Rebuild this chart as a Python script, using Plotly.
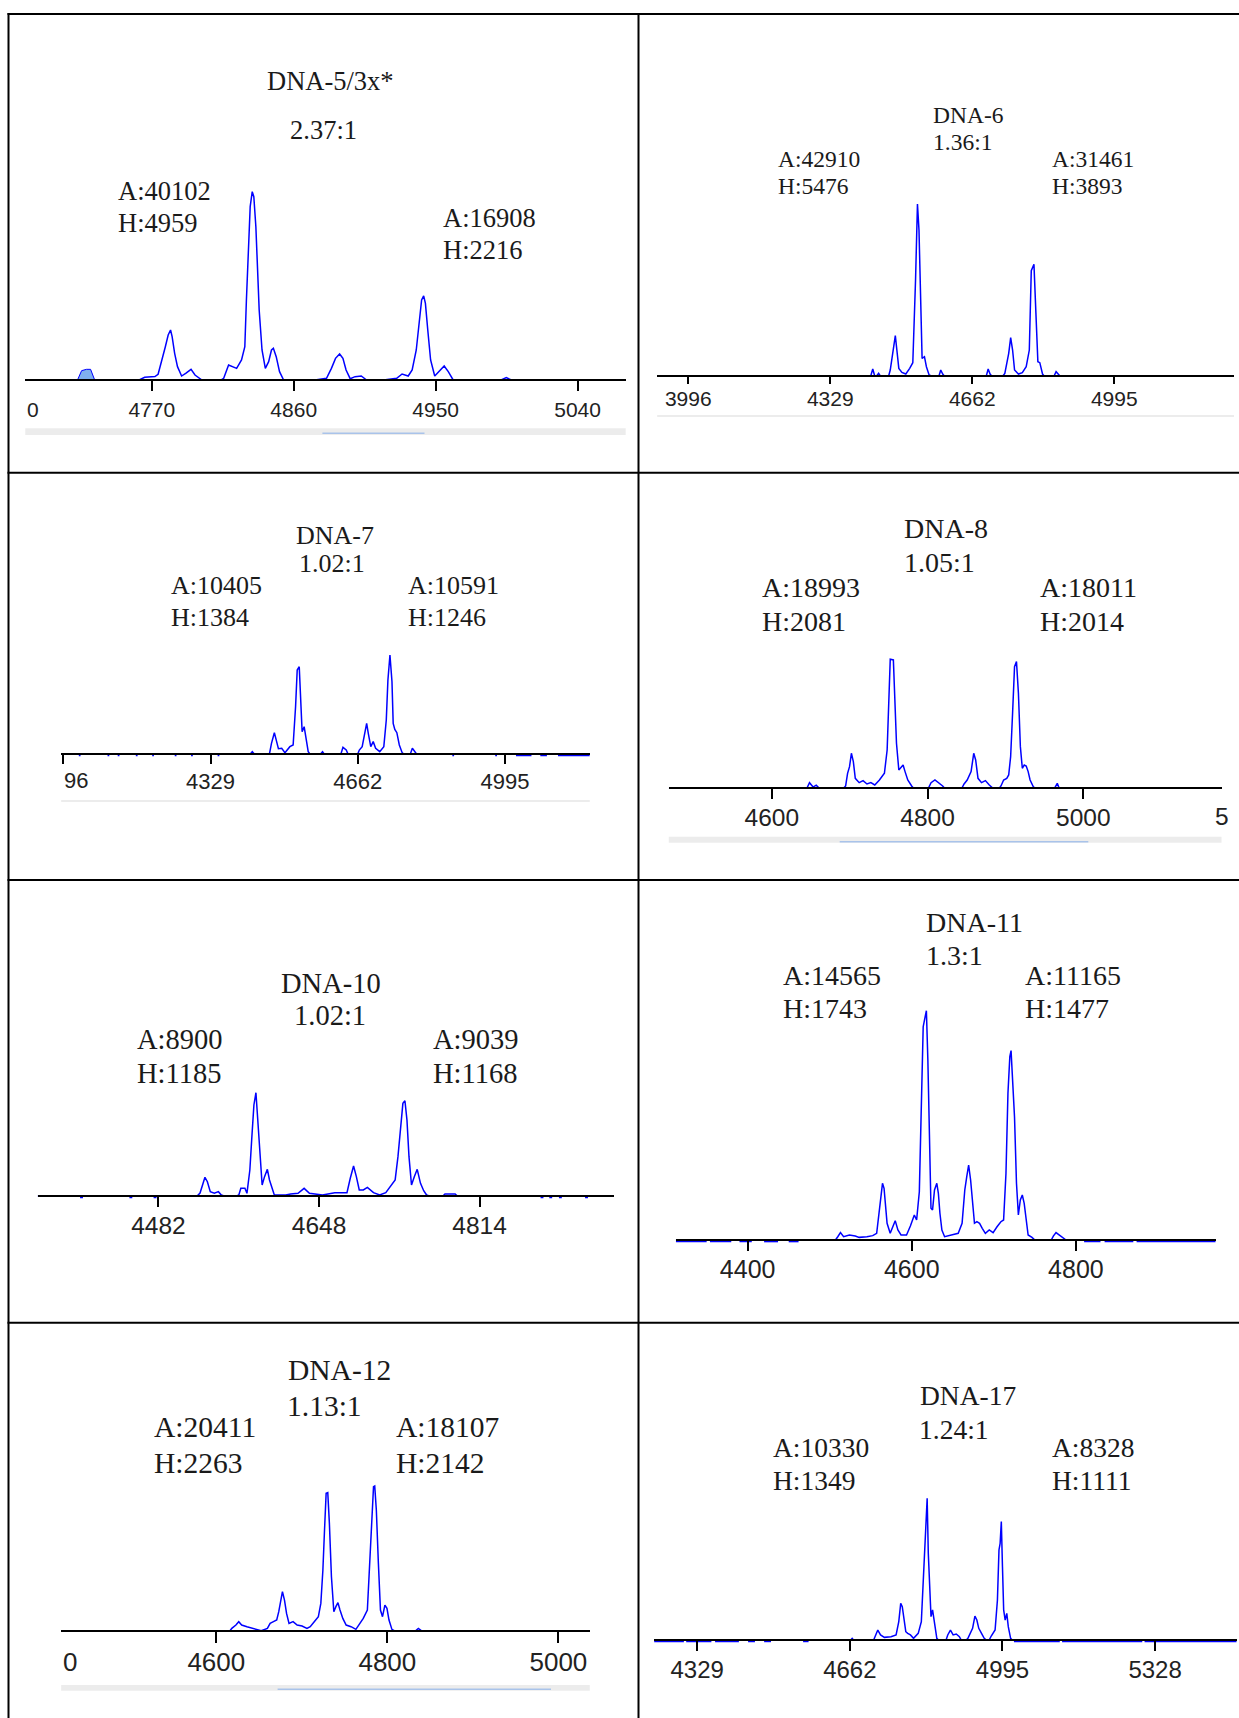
import plotly.graph_objects as go

W, H = 1239, 1718

# ---------------- data (mass, intensity) ----------------
P1_SPECTRUM = [(4689.8, 0), (4762, 0), (4765.5, 70), (4772, 90), (4774, 150), (4776, 439), (4778.6, 877),
               (4780.4, 1185), (4781.9, 1317), (4782.9, 1141), (4784.5, 702), (4786.3, 351), (4788.9, 105),
               (4791.5, 176), (4794.9, 281), (4797.4, 132), (4800.5, 44), (4801.8, 0), (4814, 0), (4815.6, 44),
               (4818.7, 395), (4821.2, 351), (4823.8, 307), (4826.9, 527), (4829.0, 877), (4830.0, 2106),
               (4831.1, 3072), (4832.4, 4564), (4833.7, 4959), (4834.7, 4827), (4836.0, 4037), (4836.8, 2984),
               (4838.1, 1843), (4839.9, 790), (4842.0, 307), (4844.1, 483), (4845.9, 790), (4847.1, 834),
               (4848.9, 614), (4851.0, 219), (4853.6, 0), (4873.5, 0), (4880.8, 44), (4883.9, 307), (4886.5, 570),
               (4889.1, 685), (4891.2, 570), (4893.2, 263), (4895.8, 35), (4898.9, 88), (4902.8, 105), (4906.2, 0),
               (4917.0, 0), (4925.3, 44), (4928.7, 158), (4932.6, 105), (4935.1, 263), (4937.7, 790),
               (4939.6, 1580), (4941.1, 2106), (4942.4, 2216), (4943.5, 2018), (4945.0, 1317), (4946.8, 527),
               (4949.4, 105), (4952.0, 219), (4955.4, 369), (4958.0, 219), (4961.1, 0), (4991.5, 0), (4994.8, 61),
               (4998, 0), (5070.5, 0)]
P1_SHADED = [(4722.9, 0), (4725.5, 246), (4728.6, 281), (4731.2, 281), (4733.8, 0)]

P2_SPECTRUM = [(3923.1, 0), (4424, 0), (4428.6, 213), (4433, 0), (4438, 0), (4442.3, 75), (4446, 0), (4466, 0),
               (4469.6, 181), (4476.0, 713), (4481.5, 1276), (4485.1, 819), (4489.7, 234), (4497.0, 106),
               (4506.1, 53), (4515.2, 234), (4522.5, 415), (4528.9, 3052), (4533.4, 5476), (4537.0, 4647),
               (4540.7, 2201), (4544.3, 553), (4549.8, 606), (4554.4, 287), (4560.7, 21), (4565, 0), (4584, 0),
               (4588.0, 181), (4592.6, 53), (4596, 0), (4695, 0), (4699.2, 213), (4703.7, 53), (4707, 0), (4734, 0),
               (4738.3, 75), (4747.4, 713), (4752.0, 1212), (4756.5, 819), (4761.1, 181), (4770.2, 53),
               (4779.3, 96), (4788.4, 287), (4795.7, 819), (4800.3, 3350), (4806.6, 3551), (4811.2, 1988),
               (4815.8, 447), (4820.3, 415), (4826.7, 53), (4830, 0), (4854, 0), (4858.5, 128), (4864.0, 21),
               (4867, 0), (5275.7, 0)]

P3_SPECTRUM = [(3991.2, 0), (4419, 0), (4423.5, 37), (4428, 0), (4462.3, 0), (4466.9, 169), (4473.4, 338),
               (4478.0, 222), (4482.6, 85), (4490.0, 90), (4497.4, 21), (4508.5, 116), (4515.9, 143),
               (4521.4, 750), (4525.1, 1331), (4529.7, 1384), (4533.4, 777), (4536.2, 354), (4540.8, 433),
               (4545.4, 248), (4550.0, 37), (4554, 0), (4578, 0), (4582.4, 37), (4586, 0), (4624, 0),
               (4628.6, 106), (4636.0, 63), (4640, 0), (4662, 0), (4665.6, 63), (4672.1, 116), (4677.6, 338),
               (4682.2, 486), (4685.9, 327), (4691.5, 116), (4697.0, 196), (4702.5, 90), (4711.8, 37),
               (4721.0, 116), (4726.6, 539), (4730.3, 1173), (4734.9, 1569), (4739.5, 1146), (4742.2, 486),
               (4745.9, 391), (4750.5, 338), (4756.1, 143), (4762.5, 21), (4766, 0), (4781, 0), (4785.6, 90),
               (4793.0, 21), (4796, 0), (5187, 0)]
P3_NOISE = [(4031, 4035), (4096, 4100), (4119, 4123), (4160, 4164), (4197, 4201), (4248, 4252), (4285, 4289),
            (4345, 4349), (4876, 4880), (4973, 4977), (5020, 5055), (5075, 5090), (5115, 5187)]

P4_SPECTRUM = [(4467.7, 0), (4645, 0), (4648.4, 91), (4653, 20), (4657, 50), (4661, 0), (4692, 0), (4694.8, 38),
               (4697.3, 242), (4699.8, 349), (4702.2, 565), (4704.7, 430), (4707.2, 161), (4712.2, 91),
               (4717.2, 124), (4722.2, 70), (4727.2, 91), (4732.2, 54), (4738.2, 134), (4744.6, 242),
               (4748.1, 618), (4750.1, 1425), (4752.1, 2081), (4756.1, 2070), (4758.1, 1479), (4760.1, 726),
               (4763.1, 296), (4766.1, 349), (4768.6, 376), (4771.1, 269), (4774.6, 134), (4779.6, 38), (4782, 0),
               (4801, 0), (4804.5, 91), (4809.5, 134), (4814.5, 91), (4819.4, 38), (4822, 0), (4844, 0),
               (4846.9, 70), (4850.9, 134), (4855.9, 269), (4859.3, 565), (4861.8, 457), (4864.8, 161),
               (4869.3, 91), (4874.3, 124), (4879.3, 54), (4884, 0), (4892, 0), (4894.3, 38), (4897.7, 134),
               (4901.7, 161), (4904.2, 215), (4906.7, 511), (4909.2, 1210), (4911.7, 1962), (4914.2, 2044),
               (4916.7, 1532), (4919.2, 672), (4921.7, 323), (4924.2, 376), (4926.7, 360), (4929.2, 269),
               (4931.7, 134), (4935.7, 27), (4938, 0), (4963, 0), (4966.6, 81), (4969.1, 0), (5177.5, 0)]

P5_SPECTRUM = [(4357.1, 0), (4522, 0), (4525.0, 34), (4527.1, 107), (4530.1, 214), (4532.6, 164), (4535.6, 50),
               (4539.8, 31), (4544.0, 50), (4547.0, 11), (4550, 0), (4563, 0), (4565.1, 11), (4567.2, 88),
               (4571.4, 88), (4573.5, 31), (4576.5, 298), (4578.6, 681), (4580.7, 1044), (4582.8, 1185),
               (4584.1, 986), (4586.2, 566), (4589.2, 126), (4591.7, 222), (4594.6, 306), (4596.8, 184),
               (4598.9, 107), (4601.8, 11), (4613.6, 11), (4618.7, 23), (4626.3, 31), (4632.6, 88), (4638.1, 31),
               (4645.3, 23), (4651.6, 11), (4664.3, 38), (4676.9, 38), (4680.3, 203), (4683.7, 344),
               (4686.6, 222), (4689.6, 69), (4693.8, 69), (4698.0, 99), (4704.3, 38), (4710.7, 11), (4717.0, 38),
               (4722.5, 126), (4726.7, 184), (4729.6, 451), (4732.6, 834), (4734.7, 1063), (4736.8, 1093),
               (4738.9, 872), (4741.0, 451), (4743.6, 126), (4746.5, 222), (4749.5, 306), (4752.9, 145),
               (4756.2, 61), (4759.2, 11), (4762, 0), (4776, 0), (4778.2, 23), (4788.7, 23), (4791, 0),
               (4952.4, 0)]
P5_NOISE = [(4401, 4404), (4452, 4455), (4477, 4480), (4877, 4880), (4886, 4889), (4896, 4899), (4923, 4926)]

P6_SPECTRUM = [(4312.4, 0), (4507, 0), (4509.8, 25), (4513.1, 56), (4516.9, 25), (4524.0, 38), (4531.1, 30),
               (4535.9, 20), (4545.3, 25), (4552.4, 33), (4557.2, 51), (4559.5, 177), (4561.9, 329), (4564.3, 431),
               (4566.2, 393), (4568.0, 279), (4569.9, 127), (4573.7, 51), (4577.5, 106), (4579.8, 147),
               (4583.1, 76), (4586.9, 38), (4593.6, 38), (4598.3, 106), (4603.1, 190), (4605.9, 152),
               (4609.2, 367), (4611.6, 1013), (4613.9, 1621), (4616.3, 1697), (4617.8, 1743), (4619.6, 1368),
               (4621.5, 633), (4623.4, 241), (4625.3, 228), (4627.7, 380), (4630.5, 431), (4632.4, 355),
               (4634.3, 203), (4636.7, 76), (4640.0, 25), (4647.1, 38), (4656.6, 51), (4661.3, 127),
               (4664.6, 380), (4667.0, 481), (4669.3, 570), (4671.7, 456), (4674.1, 279), (4676.4, 127),
               (4679.3, 139), (4682.6, 127), (4685.9, 89), (4689.7, 51), (4694.4, 76), (4699.1, 56),
               (4703.9, 101), (4708.6, 139), (4711.9, 152), (4714.8, 507), (4717.2, 1115), (4719.5, 1393),
               (4721.0, 1439), (4722.9, 1165), (4725.2, 937), (4727.6, 431), (4729.9, 190), (4732.3, 304),
               (4734.7, 342), (4737.0, 279), (4739.4, 177), (4741.8, 38), (4746.5, 20), (4750, 0), (4770, 0),
               (4772.5, 30), (4775.8, 56), (4779.6, 38), (4784.4, 20), (4788, 0), (4970.4, 0)]
P6_NOISE = [(4312.4, 4350), (4354, 4380), (4390, 4405), (4420, 4437), (4450, 4462), (4810, 4830),
            (4835, 4870), (4874, 4970.4)]

P7_SPECTRUM = [(4418.6, 0), (4616, 0), (4618.1, 38), (4622.9, 93), (4626.2, 148), (4629.6, 93), (4635.8, 66),
               (4642.0, 38), (4646.8, 27), (4652.5, 0), (4659.7, 38), (4662.9, 120), (4666.8, 148), (4670.6, 175),
               (4673.0, 312), (4675.4, 503), (4677.3, 640), (4679.7, 503), (4682.1, 284), (4685.0, 120),
               (4689.7, 148), (4694.5, 93), (4700.2, 77), (4706.0, 38), (4709.8, 66), (4714.5, 148),
               (4719.3, 230), (4722.2, 448), (4724.6, 995), (4726.5, 1651), (4728.4, 2252), (4730.3, 2263),
               (4732.2, 1760), (4734.6, 886), (4737.4, 312), (4739.8, 394), (4742.2, 459), (4744.6, 339),
               (4747.9, 202), (4751.8, 93), (4757.5, 66), (4763.2, 22), (4767.0, 93), (4771.8, 202),
               (4776.6, 339), (4779.0, 968), (4781.4, 1760), (4783.8, 2362), (4785.2, 2373), (4787.1, 1979),
               (4789.5, 1104), (4791.9, 339), (4794.3, 230), (4797.1, 421), (4799.5, 366), (4801.9, 175),
               (4805.3, 22), (4808, 0), (4833, 0), (4836.2, 38), (4839.6, 0), (5036.7, 0)]

P8_SPECTRUM = [(4235, 0), (4664, 0), (4667.1, 16), (4670, 0), (4714, 0), (4717.9, 38), (4723.0, 95), (4729.0, 48),
               (4737.4, 25), (4751.8, 32), (4762.9, 48), (4768.8, 175), (4773.0, 349), (4776.4, 317),
               (4780.7, 175), (4784.1, 79), (4788.3, 63), (4794.2, 48), (4801.0, 16), (4811.2, 63), (4818.0, 175),
               (4822.2, 603), (4825.6, 952), (4828.1, 1111), (4830.7, 1349), (4833.2, 825), (4836.6, 349),
               (4839.1, 222), (4842.5, 286), (4846.8, 159), (4851.8, 16), (4855, 0), (4872, 0), (4875.6, 48),
               (4881.5, 95), (4887.4, 48), (4894.2, 57), (4901.0, 32), (4905, 0), (4916, 0), (4919.6, 16),
               (4929.8, 111), (4934.9, 228), (4939.1, 190), (4943.3, 111), (4949.3, 63), (4955.2, 16), (4960, 0),
               (4966, 0), (4970.5, 38), (4978.9, 95), (4984.0, 381), (4987.4, 857), (4989.9, 920), (4992.5, 1127),
               (4995.0, 698), (4997.6, 286), (5000.9, 190), (5004.4, 254), (5007.7, 127), (5012.8, 16), (5016, 0),
               (5506, 0)]
P8_NOISE = [(4235, 4300), (4305, 4360), (4368, 4420), (4440, 4455), (4475, 4490), (4560, 4572),
            (5020, 5120), (5125, 5300), (5305, 5506)]

SPECTRA = [P1_SPECTRUM, P2_SPECTRUM, P3_SPECTRUM, P4_SPECTRUM, P5_SPECTRUM, P6_SPECTRUM, P7_SPECTRUM, P8_SPECTRUM]
NOISE = [[], [], P3_NOISE, [], P5_NOISE, P6_NOISE, [], P8_NOISE]
NOISE_LEVEL = [0, 0, -24, 0, -17, -12, 0, -14]

TITLES = ["DNA-5/3x*", "DNA-6", "DNA-7", "DNA-8", "DNA-10", "DNA-11", "DNA-12", "DNA-17"]
RATIOS = ["2.37:1", "1.36:1", "1.02:1", "1.05:1", "1.02:1", "1.3:1", "1.13:1", "1.24:1"]
LEFT_AREA = [40102, 42910, 10405, 18993, 8900, 14565, 20411, 10330]
LEFT_HEIGHT = [4959, 5476, 1384, 2081, 1185, 1743, 2263, 1349]
RIGHT_AREA = [16908, 31461, 10591, 18011, 9039, 11165, 18107, 8328]
RIGHT_HEIGHT = [2216, 3893, 1246, 2014, 1168, 1477, 2142, 1111]

TICKS = [[4770, 4860, 4950, 5040], [3996, 4329, 4662, 4995], [3996, 4329, 4662, 4995], [4600, 4800, 5000],
         [4482, 4648, 4814], [4400, 4600, 4800], [4600, 4800, 5000], [4329, 4662, 4995, 5328]]
HIDDEN_TICK_LABELS = [[], [], [3996], [], [], [], [], []]
PARTIAL_LABELS = ["0", "", "96", "5", "", "", "0", ""]
X_RANGES = [(4689.8, 5070.5), (3923.1, 5275.7), (3991.2, 5187), (4467.7, 5177.5),
            (4357.1, 4952.4), (4312.4, 4970.4), (4418.6, 5036.7), (4235, 5506)]
COUNTS_PER_PX = [26.33, 31.9, 15.85, 16.13, 11.47, 7.6, 16.4, 9.52]

# ---------------- layout geometry (pixels) ----------------
# x0, x1, baseline y, tick font, text font, ticklen, label standoff
GEOM = [
    (25.3, 625.7, 380.0, 21, 26.5, 10, 1),
    (657.2, 1234.0, 375.7, 21, 23.5, 7, -3),
    (61.2, 589.8, 754.0, 22, 26, 9, -1),
    (668.8, 1221.5, 788.3, 24.5, 28, 10, -3),
    (37.6, 613.5, 1196.0, 24.5, 28.5, 10, -2),
    (675.8, 1215.7, 1240.0, 25, 28, 10, -3),
    (61.2, 589.8, 1630.7, 26, 29.5, 11, -3),
    (654.1, 1236.7, 1640.0, 24, 27.5, 10, -2),
]
# title (cx, cy), ratio (cx, cy), left (x, yA, yH), right (x, yA, yH)
TEXT_POS = [
    ((330.6, 80.8), (323.5, 130.0), (116.3, 190.8, 223.0), (440.8, 217.5, 249.7)),
    ((968.4, 115.0), (962.7, 141.7), (775.6, 159.2, 185.8), (1049.5, 159.2, 185.8)),
    ((334.7, 535.8), (332.2, 563.3), (169.4, 585.8, 617.5), (406.1, 585.8, 617.5)),
    ((945.8, 528.3), (939.6, 562.2), (760.1, 587.8, 621.7), (1037.8, 587.8, 621.7)),
    ((331.2, 983.3), (329.6, 1015.8), (134.7, 1039.5, 1073.3), (430.6, 1039.5, 1073.3)),
    ((974.5, 922.5), (954.3, 955.2), (780.7, 975.8, 1008.3), (1023.0, 975.8, 1008.3)),
    ((339.4, 1370.0), (324.5, 1406.3), (152.2, 1427.3, 1463.3), (393.9, 1427.3, 1463.3)),
    ((967.9, 1395.8), (954.3, 1429.2), (771.0, 1447.5, 1480.8), (1049.5, 1447.5, 1480.8)),
]
# partial clipped tick label: (x, anchor), centre y
PARTIAL_POS = [(33, "center", 409), None, (90, "right", 780.8), (1213, "left", 816.7), None, None,
               (70, "center", 1662.2), None]
# scroll bars: (x0, x1, y0, y1, thumb x0, thumb x1, thumb y) or thin line (x0, x1, y)
SCROLL_RECTS = [(25.3, 625.7, 428.3, 435.0, 322.4, 424.5, 433.3),
                (668.8, 1221.5, 836.7, 842.7, 839.7, 1088.3, 841.7),
                (61.2, 589.8, 1685.0, 1690.7, 277.6, 551.0, 1689.3)]
SCROLL_LINES = [(657.2, 1234.0, 416.0), (61.2, 589.8, 801.0)]

TABLE_H = [14, 472.7, 880, 1322.7]
TABLE_V = [8.5, 638.5]


def px(x):
    return x / W


def py(y):
    return 1 - y / H


fig = go.Figure()
layout = dict(width=W, height=H, margin=dict(l=0, r=0, t=0, b=0), autosize=False,
              paper_bgcolor="white", plot_bgcolor="rgba(0,0,0,0)", showlegend=False)
annotations = []
shapes = []

SERIF = "Liberation Serif, Times New Roman, serif"
SANS = "Liberation Sans, Arial, sans-serif"
BLUE = "#0000ff"

for i in range(8):
    n = "" if i == 0 else str(i + 1)
    x0, x1, yb, tfs, afs, tl, so = GEOM[i]
    k = COUNTS_PER_PX[i]
    ticktext = ["" if v in HIDDEN_TICK_LABELS[i] else str(v) for v in TICKS[i]]
    layout["xaxis" + n] = dict(
        domain=[px(x0), px(x1)], range=list(X_RANGES[i]), anchor="free", position=py(yb),
        showline=True, linecolor="black", linewidth=2, ticks="outside", ticklen=tl, tickwidth=2,
        tickcolor="black", tickvals=TICKS[i], ticktext=ticktext,
        tickfont=dict(family=SANS, size=tfs, color="#222222"), ticklabelstandoff=int(so),
        showgrid=False, zeroline=False, fixedrange=True, layer="above traces")
    layout["yaxis" + n] = dict(
        domain=[py(yb + 6), py(yb - 262)], range=[-6 * k, 262 * k], visible=False,
        showgrid=False, zeroline=False, fixedrange=True)

    xs = [p[0] for p in SPECTRA[i]]
    ys = [p[1] for p in SPECTRA[i]]
    fig.add_trace(go.Scatter(x=xs, y=ys, mode="lines", line=dict(color=BLUE, width=1.5),
                             xaxis="x" + n, yaxis="y" + n, hoverinfo="skip"))
    if i == 0:
        fig.add_trace(go.Scatter(x=[p[0] for p in P1_SHADED], y=[p[1] for p in P1_SHADED], mode="lines",
                                 fill="tozeroy", fillcolor="#7fb0ee", line=dict(color=BLUE, width=1),
                                 xaxis="x" + n, yaxis="y" + n, hoverinfo="skip"))
    if NOISE[i]:
        nx, ny = [], []
        for a, b in NOISE[i]:
            nx += [a, b, None]
            ny += [NOISE_LEVEL[i], NOISE_LEVEL[i], None]
        fig.add_trace(go.Scatter(x=nx, y=ny, mode="lines", line=dict(color=BLUE, width=1.5),
                                 xaxis="x" + n, yaxis="y" + n, hoverinfo="skip", connectgaps=False))

    (tx, ty), (rx, ry), (lx, lya, lyh), (qx, qya, qyh) = TEXT_POS[i]
    font = dict(family=SERIF, size=afs, color="#1a1a1a")
    items = [
        (TITLES[i], tx, ty, "center"),
        (RATIOS[i], rx, ry, "center"),
        ("A:%d" % LEFT_AREA[i], lx, lya, "left"),
        ("H:%d" % LEFT_HEIGHT[i], lx, lyh, "left"),
        ("A:%d" % RIGHT_AREA[i], qx, qya, "left"),
        ("H:%d" % RIGHT_HEIGHT[i], qx, qyh, "left"),
    ]
    for text, x, y, anc in items:
        annotations.append(dict(text=text, x=px(x), y=py(y), xref="paper", yref="paper",
                                xanchor=anc, yanchor="middle", showarrow=False, font=font))
    if PARTIAL_POS[i] is not None:
        ppx, anc, ppy = PARTIAL_POS[i]
        annotations.append(dict(text=PARTIAL_LABELS[i], x=px(ppx), y=py(ppy), xref="paper", yref="paper",
                                xanchor=anc, yanchor="middle", showarrow=False,
                                font=dict(family=SANS, size=tfs, color="#222222")))

for (a, b, c, d, e, f, g) in SCROLL_RECTS:
    shapes.append(dict(type="rect", xref="paper", yref="paper", x0=px(a), x1=px(b), y0=py(d), y1=py(c),
                       fillcolor="#ececec", line=dict(width=0), layer="below"))
    shapes.append(dict(type="line", xref="paper", yref="paper", x0=px(e), x1=px(f), y0=py(g), y1=py(g),
                       line=dict(color="#a9c3ea", width=1.5)))
for (a, b, c) in SCROLL_LINES:
    shapes.append(dict(type="line", xref="paper", yref="paper", x0=px(a), x1=px(b), y0=py(c), y1=py(c),
                       line=dict(color="#ececec", width=2)))

for y in TABLE_H:
    shapes.append(dict(type="line", xref="paper", yref="paper", x0=px(TABLE_V[0] - 1), x1=1,
                       y0=py(y), y1=py(y), line=dict(color="black", width=2)))
for x in TABLE_V:
    shapes.append(dict(type="line", xref="paper", yref="paper", x0=px(x), x1=px(x),
                       y0=py(TABLE_H[0] - 1), y1=0, line=dict(color="black", width=2)))

layout["annotations"] = annotations
layout["shapes"] = shapes
fig.update_layout(**layout)
fig.write_html("out.html")
